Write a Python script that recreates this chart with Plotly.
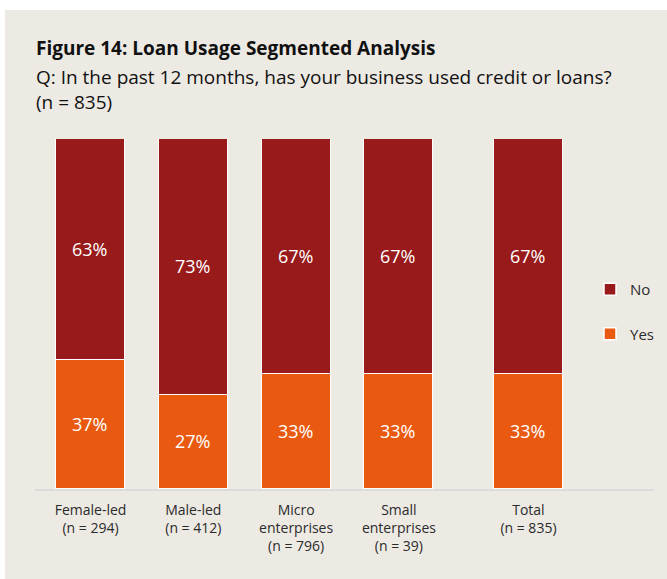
import plotly.graph_objects as go

# Segments and their loan-usage shares (%)
categories = ["Female-led<br>(n = 294)", "Male-led<br>(n = 412)",
              "Micro<br>enterprises<br>(n = 796)", "Small<br>enterprises<br>(n = 39)",
              "Total<br>(n = 835)"]
positions = [0, 1, 2, 3, 4.26]
yes_pct = [37, 27, 33, 33, 33]
no_pct = [63, 73, 67, 67, 67]

W, H = 667, 579
L, R, T, B = 35, 0, 139, 90
PW, PH = W - L - R, H - T - B
UNIT = 102.8  # pixels per category step

def px_x(px):
    return (px - L) / PW

def px_y(py):
    return (H - B - py) / PH

BG = "#EDEAE4"
DARK = "#981A1A"
ORANGE = "#E95A10"
TXT = "#2b2b2b"
FONT = "Open Sans"

fig = go.Figure()
fig.add_trace(go.Bar(
    x=positions, y=yes_pct, name="Yes", legendgroup="yes", legendrank=2,
    marker=dict(color=ORANGE, line=dict(color="white", width=1.5)),
    width=0.67, text=[f"{v}%" for v in yes_pct], textposition="inside",
    insidetextanchor="middle", textfont=dict(color="white", size=18, family=FONT),
))
fig.add_trace(go.Bar(
    x=positions, y=no_pct, name="No", legendgroup="no", legendrank=1,
    marker=dict(color=DARK, line=dict(color="white", width=1.5)),
    width=0.67, text=[f"{v}%" for v in no_pct], textposition="inside",
    insidetextanchor="middle", textfont=dict(color="white", size=18, family=FONT),
))

annotations = [
    dict(text="<b>Figure 14: Loan Usage Segmented Analysis</b>", x=px_x(34), y=px_y(48),
         font=dict(size=19, color="#111111", family=FONT)),
    dict(text="Q: In the past 12 months, has your business used credit or loans?",
         x=px_x(34), y=px_y(77), font=dict(size=19, color="#111111", family=FONT)),
    dict(text="(n = 835)", x=px_x(34), y=px_y(102),
         font=dict(size=19, color="#111111", family=FONT)),
]
for a in annotations:
    a.update(xref="paper", yref="paper", xanchor="left", yanchor="middle",
             showarrow=False)

shapes = [
    # beige card behind the chart
    dict(type="rect", xref="paper", yref="paper", layer="below",
         x0=px_x(5), x1=px_x(668), y0=px_y(580), y1=px_y(10),
         fillcolor=BG, line=dict(width=0)),
    # baseline
    dict(type="line", xref="paper", yref="paper", layer="below",
         x0=px_x(35), x1=px_x(654), y0=px_y(490), y1=px_y(490),
         line=dict(color="#DCDCDC", width=2)),
]

fig.update_layout(
    width=W, height=H,
    margin=dict(l=L, r=R, t=T, b=B),
    paper_bgcolor="white", plot_bgcolor="rgba(0,0,0,0)",
    barmode="stack", bargap=0,
    font=dict(family=FONT, color=TXT),
    annotations=annotations,
    shapes=shapes,
    legend=dict(x=px_x(590), y=px_y(273), xanchor="left", yanchor="top",
                traceorder="grouped", tracegroupgap=22,
                font=dict(size=15, color=TXT, family=FONT),
                bgcolor="rgba(0,0,0,0)"),
    xaxis=dict(range=[-0.54, -0.54 + PW / UNIT], tickvals=positions, ticktext=categories,
               showgrid=False, zeroline=False, showline=False,
               ticks="outside", ticklen=8, tickcolor="rgba(0,0,0,0)",
               tickfont=dict(size=14, color=TXT, family=FONT)),
    yaxis=dict(range=[0, 100], visible=False),
)

fig.write_html("out.html")
